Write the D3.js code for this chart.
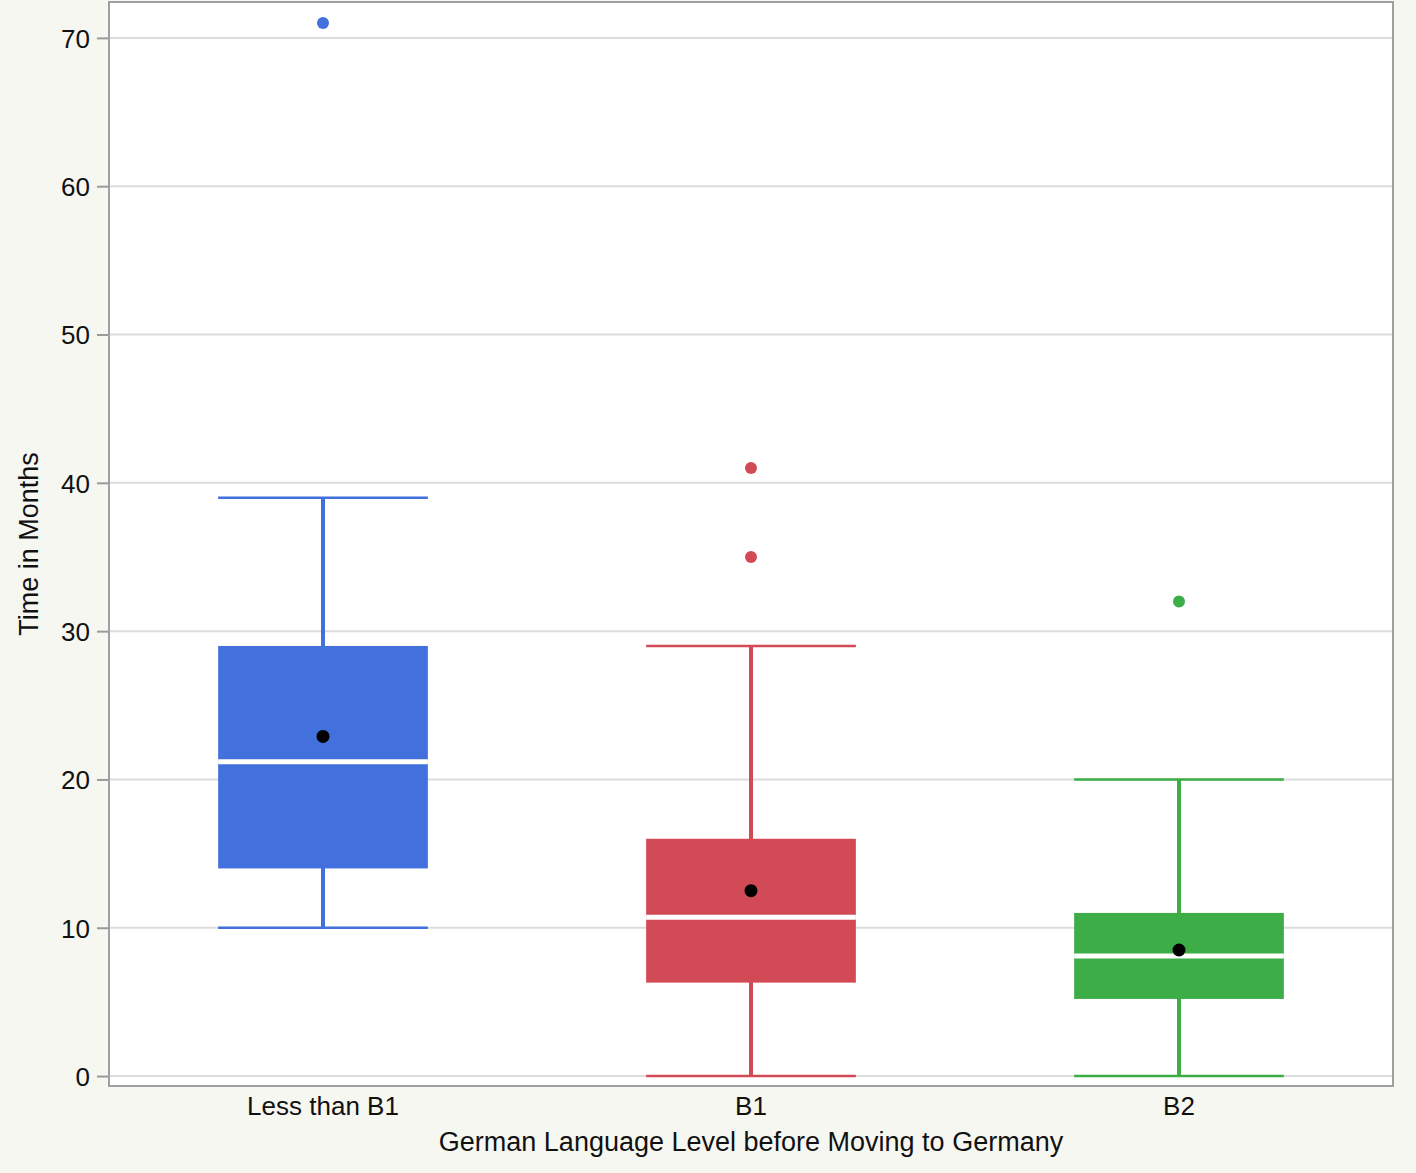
<!DOCTYPE html>
<html>
<head>
<meta charset="utf-8">
<script src="https://cdn.jsdelivr.net/npm/d3@7"></script>
<style>
  html, body { margin: 0; padding: 0; background: #f7f7f2; }
  text { font-family: "Liberation Sans", Arial, Helvetica, sans-serif; }
</style>
</head>
<body>
<div id="chart"></div>
<script>
var categories  =   ['Less than B1', 'B1', 'B2'];
var colors      =   ['#4271dd', '#d34a57', '#3dad47'];
var whisker_low =   [10, 0, 0];
var q1          =   [14, 6.3, 5.2];
var median      =   [21.2, 10.7, 8.1];
var q3          =   [29, 16, 11];
var whisker_high=   [39, 29, 20];
var means       =   [22.9, 12.5, 8.5];
var outliers    =   [[71], [41, 35], [32]];
var y_ticks     =   [0, 10, 20, 30, 40, 50, 60, 70];

var chart_width     =   1416;
var chart_height    =   1173;
var margin = { top: 2, right: 23, bottom: 87, left: 109 };
var plot_w = chart_width - margin.left - margin.right;
var plot_h = chart_height - margin.top - margin.bottom;

var svg = d3.select('#chart')
    .append('svg')
    .attr('width', chart_width)
    .attr('height', chart_height);

var g = svg.append('g')
    .attr('transform', 'translate(' + margin.left + ',' + margin.top + ')');

// escalas
var x_scale = d3.scaleBand()
    .domain(categories)
    .range([0, plot_w])
    .padding(0);

var y_scale = d3.scaleLinear()
    .domain([-0.67, 72.42])
    .range([plot_h, 0]);

var box_w = x_scale.bandwidth() * 0.49;

// fundo da area
g.append('rect')
    .attr('width', plot_w)
    .attr('height', plot_h)
    .attr('fill', '#fff');

// grade
g.selectAll('.grid')
    .data(y_ticks)
    .enter()
    .append('line')
    .attr('x1', 0)
    .attr('x2', plot_w)
    .attr('y1', function(d){ return y_scale(d); })
    .attr('y2', function(d){ return y_scale(d); })
    .attr('stroke', '#dcdcdc')
    .attr('stroke-width', 2);

// eixo y
var y_axis = d3.axisLeft(y_scale)
    .tickValues(y_ticks)
    .tickSize(12)
    .tickPadding(7);
var ya = g.append('g').call(y_axis);
ya.select('.domain').remove();
ya.selectAll('line').attr('stroke', '#999').attr('stroke-width', 2);
ya.selectAll('text')
    .attr('font-size', 26)
    .attr('fill', '#111')
    .attr('dy', '0.36em');

// eixo x
var x_axis = d3.axisBottom(x_scale)
    .tickSize(0)
    .tickPadding(11);
var xa = g.append('g')
    .attr('transform', 'translate(0,' + plot_h + ')')
    .call(x_axis);
xa.select('.domain').remove();
xa.selectAll('text')
    .attr('font-size', 26)
    .attr('fill', '#111');

// caixas
var boxes = g.selectAll('.box')
    .data(categories)
    .enter()
    .append('g')
    .attr('transform', function(d){
        return 'translate(' + (x_scale(d) + x_scale.bandwidth() / 2) + ',0)';
    });

// bigodes
boxes.append('line')
    .attr('x1', 0).attr('x2', 0)
    .attr('y1', function(d, i){ return y_scale(whisker_low[i]); })
    .attr('y2', function(d, i){ return y_scale(whisker_high[i]); })
    .attr('stroke', function(d, i){ return colors[i]; })
    .attr('stroke-width', 4);

[whisker_low, whisker_high].forEach(function(arr){
    boxes.append('line')
        .attr('x1', -box_w / 2).attr('x2', box_w / 2)
        .attr('y1', function(d, i){ return y_scale(arr[i]); })
        .attr('y2', function(d, i){ return y_scale(arr[i]); })
        .attr('stroke', function(d, i){ return colors[i]; })
        .attr('stroke-width', 2.5);
});

boxes.append('rect')
    .attr('x', -box_w / 2)
    .attr('width', box_w)
    .attr('y', function(d, i){ return y_scale(q3[i]); })
    .attr('height', function(d, i){ return y_scale(q1[i]) - y_scale(q3[i]); })
    .attr('fill', function(d, i){ return colors[i]; });

// mediana
boxes.append('line')
    .attr('x1', -box_w / 2).attr('x2', box_w / 2)
    .attr('y1', function(d, i){ return y_scale(median[i]); })
    .attr('y2', function(d, i){ return y_scale(median[i]); })
    .attr('stroke', '#fff')
    .attr('stroke-width', 5);

// media
boxes.append('circle')
    .attr('cy', function(d, i){ return y_scale(means[i]); })
    .attr('r', 6.5)
    .attr('fill', '#000');

// outliers
boxes.each(function(d, i){
    d3.select(this).selectAll('.out')
        .data(outliers[i])
        .enter()
        .append('circle')
        .attr('cy', function(v){ return y_scale(v); })
        .attr('r', 6)
        .attr('fill', colors[i]);
});

// borda
g.append('rect')
    .attr('width', plot_w)
    .attr('height', plot_h)
    .attr('fill', 'none')
    .attr('stroke', '#a0a0a0')
    .attr('stroke-width', 2);

// titulos
svg.append('text')
    .attr('x', margin.left + plot_w / 2)
    .attr('y', 1151)
    .attr('text-anchor', 'middle')
    .attr('font-size', 27)
    .attr('fill', '#111')
    .text('German Language Level before Moving to Germany');

svg.append('text')
    .attr('transform', 'translate(38,' + (margin.top + plot_h / 2) + ') rotate(-90)')
    .attr('text-anchor', 'middle')
    .attr('font-size', 27)
    .attr('fill', '#111')
    .text('Time in Months');
</script>
</body>
</html>
